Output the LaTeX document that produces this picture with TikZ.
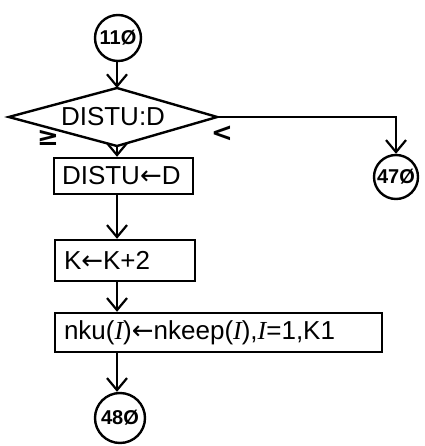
\documentclass[tikz,border=0pt]{standalone}
\usepackage{fontspec}
\setmainfont{Liberation Sans}
\newfontfamily\arrowfont{DejaVu Sans}
\newfontfamily\serifit{Liberation Serif}
\newcommand{\lar}{{\arrowfont ←}}
\newcommand{\vI}{{\serifit\itshape I}}
\usetikzlibrary{arrows.meta}
\begin{document}
\begin{tikzpicture}[x=1pt,y=-1pt,
  line width=2.4pt,
  flow/.style={-{Straight Barb[length=12pt,width=20pt,line width=2.2pt]}},
  conn/.style={circle,draw,inner sep=0pt,font=\fontsize{20}{22}\selectfont\bfseries},
  boxnode/.style={rectangle,draw,inner ysep=0pt,inner xsep=0pt,font=\fontsize{26}{28}\selectfont},
  lab/.style={font=\arrowfont\fontsize{26}{28}\selectfont\bfseries,inner sep=0pt}]
\useasboundingbox (0,0) rectangle (424,446);
\node[conn,minimum size=46pt] (c110) at (118,38) {11Ø};
\node[inner sep=0pt,minimum width=206pt,minimum height=58pt,
      font=\fontsize{26}{28}\selectfont] (d) at (113,117) {DISTU:D};
\coordinate (dtop) at (117,88);
\coordinate (dbot) at (117,146);
\draw (d.west) -- (dtop) -- (d.east) -- (dbot) -- cycle;
\node[boxnode,minimum width=139pt,minimum height=36pt,text width=123pt,align=left] (b1) at (123.5,176) {DISTU\lar D};
\node[boxnode,minimum width=140pt,minimum height=41pt,text width=122pt,align=left] (b2) at (125,260.5) {K\lar K+2};
\node[boxnode,minimum width=327pt,minimum height=39pt,text width=309pt,align=left] (b3) at (218.5,332.5) {nku(\vI)\lar nkeep(\vI),\vI=1,K1};
\node[conn,minimum size=44pt] (c470) at (396,177) {47Ø};
\node[conn,minimum size=50pt] (c480) at (120,418) {48Ø};
\node[lab] (ge) at (48,138) {≥};
\node[lab] (lt) at (222,134) {<};
\coordinate (col) at (117,0);
\draw[flow] (col |- c110.south) -- (dtop);
\draw[flow] (dbot) -- (col |- b1.north);
\draw[flow] (col |- b1.south) -- (col |- b2.north);
\draw[flow] (col |- b2.south) -- (col |- b3.north);
\draw[flow] (col |- b3.south) -- (col |- c480.north);
\draw[flow] (d.east) -| (c470.north);
\end{tikzpicture}
\end{document}
